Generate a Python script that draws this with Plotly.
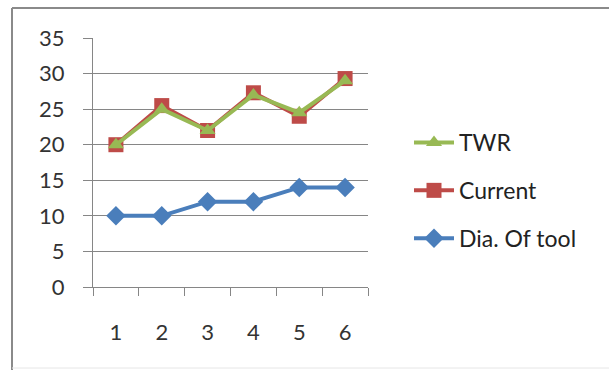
import plotly.graph_objects as go

categories = ["1", "2", "3", "4", "5", "6"]
dia_of_tool = [10, 10, 12, 12, 14, 14]
current = [20, 25.5, 22, 27.3, 24, 29.3]
twr = [20, 25, 22, 27, 24.5, 29]
y_ticks = [0, 5, 10, 15, 20, 25, 30, 35]

FONT = "Lato, 'Open Sans', sans-serif"

fig = go.Figure()
fig.add_trace(go.Scatter(x=categories, y=dia_of_tool, name="Dia. Of tool", mode="lines+markers",
                         line=dict(color="#4A7EBB", width=4),
                         marker=dict(symbol="diamond", size=15, color="#4A7EBB"),
                         legendgroup="c", legendrank=3))
fig.add_trace(go.Scatter(x=categories, y=current, name="Current", mode="lines+markers",
                         line=dict(color="#BE4B48", width=4),
                         marker=dict(symbol="square", size=15, color="#BE4B48"),
                         legendgroup="b", legendrank=2))
fig.add_trace(go.Scatter(x=categories, y=twr, name="TWR", mode="lines+markers",
                         line=dict(color="#98B954", width=4),
                         marker=dict(symbol="triangle-up", size=14, color="#98B954"),
                         legendgroup="a", legendrank=1))

L, R, T, B = 93, 241, 38, 83
W, H = 609, 370
pw, ph = W - L - R, H - T - B

def px(x):
    return (x - L) / pw

def py(y):
    return (H - B - y) / ph

fig.update_layout(
    width=W, height=H,
    margin=dict(l=L, r=R, t=T, b=B),
    paper_bgcolor="white", plot_bgcolor="white",
    font=dict(family=FONT, size=22, color="#333333"),
    showlegend=True,
    legend=dict(x=px(409), y=py(121), xanchor="left", yanchor="top",
                traceorder="grouped", tracegroupgap=15,
                font=dict(family=FONT, size=23, color="#222222"),
                bgcolor="rgba(0,0,0,0)", itemwidth=40),
    xaxis=dict(type="category", range=[-0.5, 5.5], showgrid=False,
               showline=True, linecolor="#868686", linewidth=1,
               ticks="outside", tickson="boundaries", ticklen=8, tickcolor="#868686",
               tickfont=dict(family=FONT, size=22, color="#333333"),
               ticklabelstandoff=26, fixedrange=True),
    yaxis=dict(range=[0, 35], tickvals=y_ticks, showgrid=True, gridcolor="#868686", gridwidth=1,
               showline=True, linecolor="#868686", linewidth=1, zeroline=False,
               ticks="outside", ticklen=9, tickcolor="#868686",
               tickfont=dict(family=FONT, size=22, color="#333333"),
               ticklabelstandoff=14, fixedrange=True),
    shapes=[
        dict(type="line", xref="paper", yref="paper", x0=px(12), x1=px(612), y0=py(8), y1=py(8),
             line=dict(color="#8a8a8a", width=2)),
        dict(type="line", xref="paper", yref="paper", x0=px(12), x1=px(12), y0=py(8), y1=py(372),
             line=dict(color="#8a8a8a", width=2)),
        dict(type="line", xref="paper", yref="paper", x0=px(12), x1=px(612), y0=py(368), y1=py(368),
             line=dict(color="#e6e6e6", width=1)),
    ],
)

fig.write_html("out.html")
